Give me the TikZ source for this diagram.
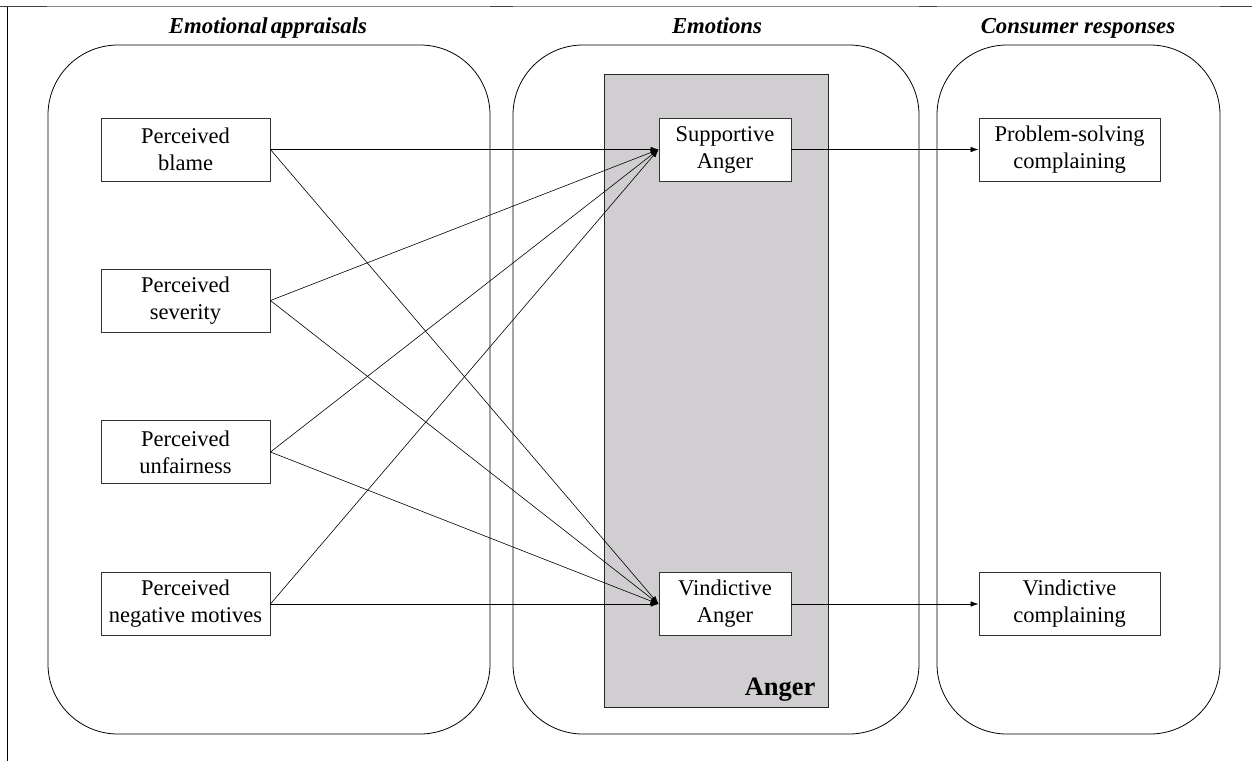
\documentclass[tikz,border=0pt]{standalone}
\usepackage{fontspec}
\setmainfont{Liberation Serif}
\usetikzlibrary{arrows.meta}
\tikzset{
  stagebox/.style={draw=black, line width=0.8pt, rounded corners=70pt},
  itembox/.style={draw=black!80, line width=0.9pt, fill=white, align=center,
    minimum height=63pt, inner sep=0pt, font=\fontsize{22.5}{27}\selectfont},
  arr/.style={line width=0.6pt, -{Latex[length=8pt,width=5.5pt]}},
  title/.style={anchor=base, font=\fontsize{22.8}{26}\selectfont\bfseries\itshape}
}
\begin{document}
\begin{tikzpicture}[x=1pt,y=-1pt]
\useasboundingbox (0,0) rectangle (1252,761);
% frame remnants
\draw[black!45, line width=0.9pt] (0,6.5) -- (1252,6.5);
\draw[black!75, line width=1.1pt] (0,6.5) -- (47,6.5);
\draw[black!75, line width=1.1pt] (490,6.5) -- (513,6.5);
\draw[black!75, line width=1.1pt] (919,6.5) -- (937,6.5);
\draw[black!75, line width=1.1pt] (1220,6.5) -- (1252,6.5);
\draw[black, line width=0.9pt] (7.5,6.5) -- (7.5,761);
% stage containers
\draw[stagebox] (48,45) rectangle (490,734);
\draw[stagebox] (513,45) rectangle (919,734);
\draw[stagebox] (937,45) rectangle (1220,734);
% anger area
\filldraw[fill={rgb,255:red,208;green,206;blue,208}, draw=black!85, line width=0.9pt] (604,74) rectangle (828,707);
\node[anchor=base east, font=\fontsize{26.5}{30}\selectfont\bfseries] (anglab) at (819,695) {Anger};
% titles
\node[title] (t1) at (268,33) {Emotional\hspace{-0.12em} appraisals};
\node[title] (t2) at (717,33) {Emotions};
\node[title] (t3) at (1078,33) {Consumer responses};
% appraisal boxes
\node[itembox, minimum width=169pt] (blame) at (185.5,149.5) {Perceived\\blame};
\node[itembox, minimum width=169pt] (sev) at (185.5,300.5) {Perceived\\severity};
\node[itembox, minimum width=169pt] (unf) at (185.5,452) {Perceived\\unfairness};
\node[itembox, minimum width=169pt] (neg) at (185.5,604) {Perceived\\negative motives};
% emotions
\node[itembox, minimum width=132pt] (sup) at (725,149.5) {Supportive\\Anger};
\node[itembox, minimum width=132pt] (vin) at (725,604) {Vindictive\\Anger};
% responses
\node[itembox, minimum width=181pt] (psc) at (1069.5,149.5) {Problem-solving\\complaining};
\node[itembox, minimum width=181pt] (vc) at (1069.5,604) {Vindictive\\complaining};
% arrows
\foreach \s in {blame,sev,unf,neg}{
  \draw[arr] (\s.east) -- (sup.west);
  \draw[arr] (\s.east) -- (vin.west);
}
\draw[arr] (sup.east) -- (psc.west);
\draw[arr] (vin.east) -- (vc.west);
\end{tikzpicture}
\end{document}
